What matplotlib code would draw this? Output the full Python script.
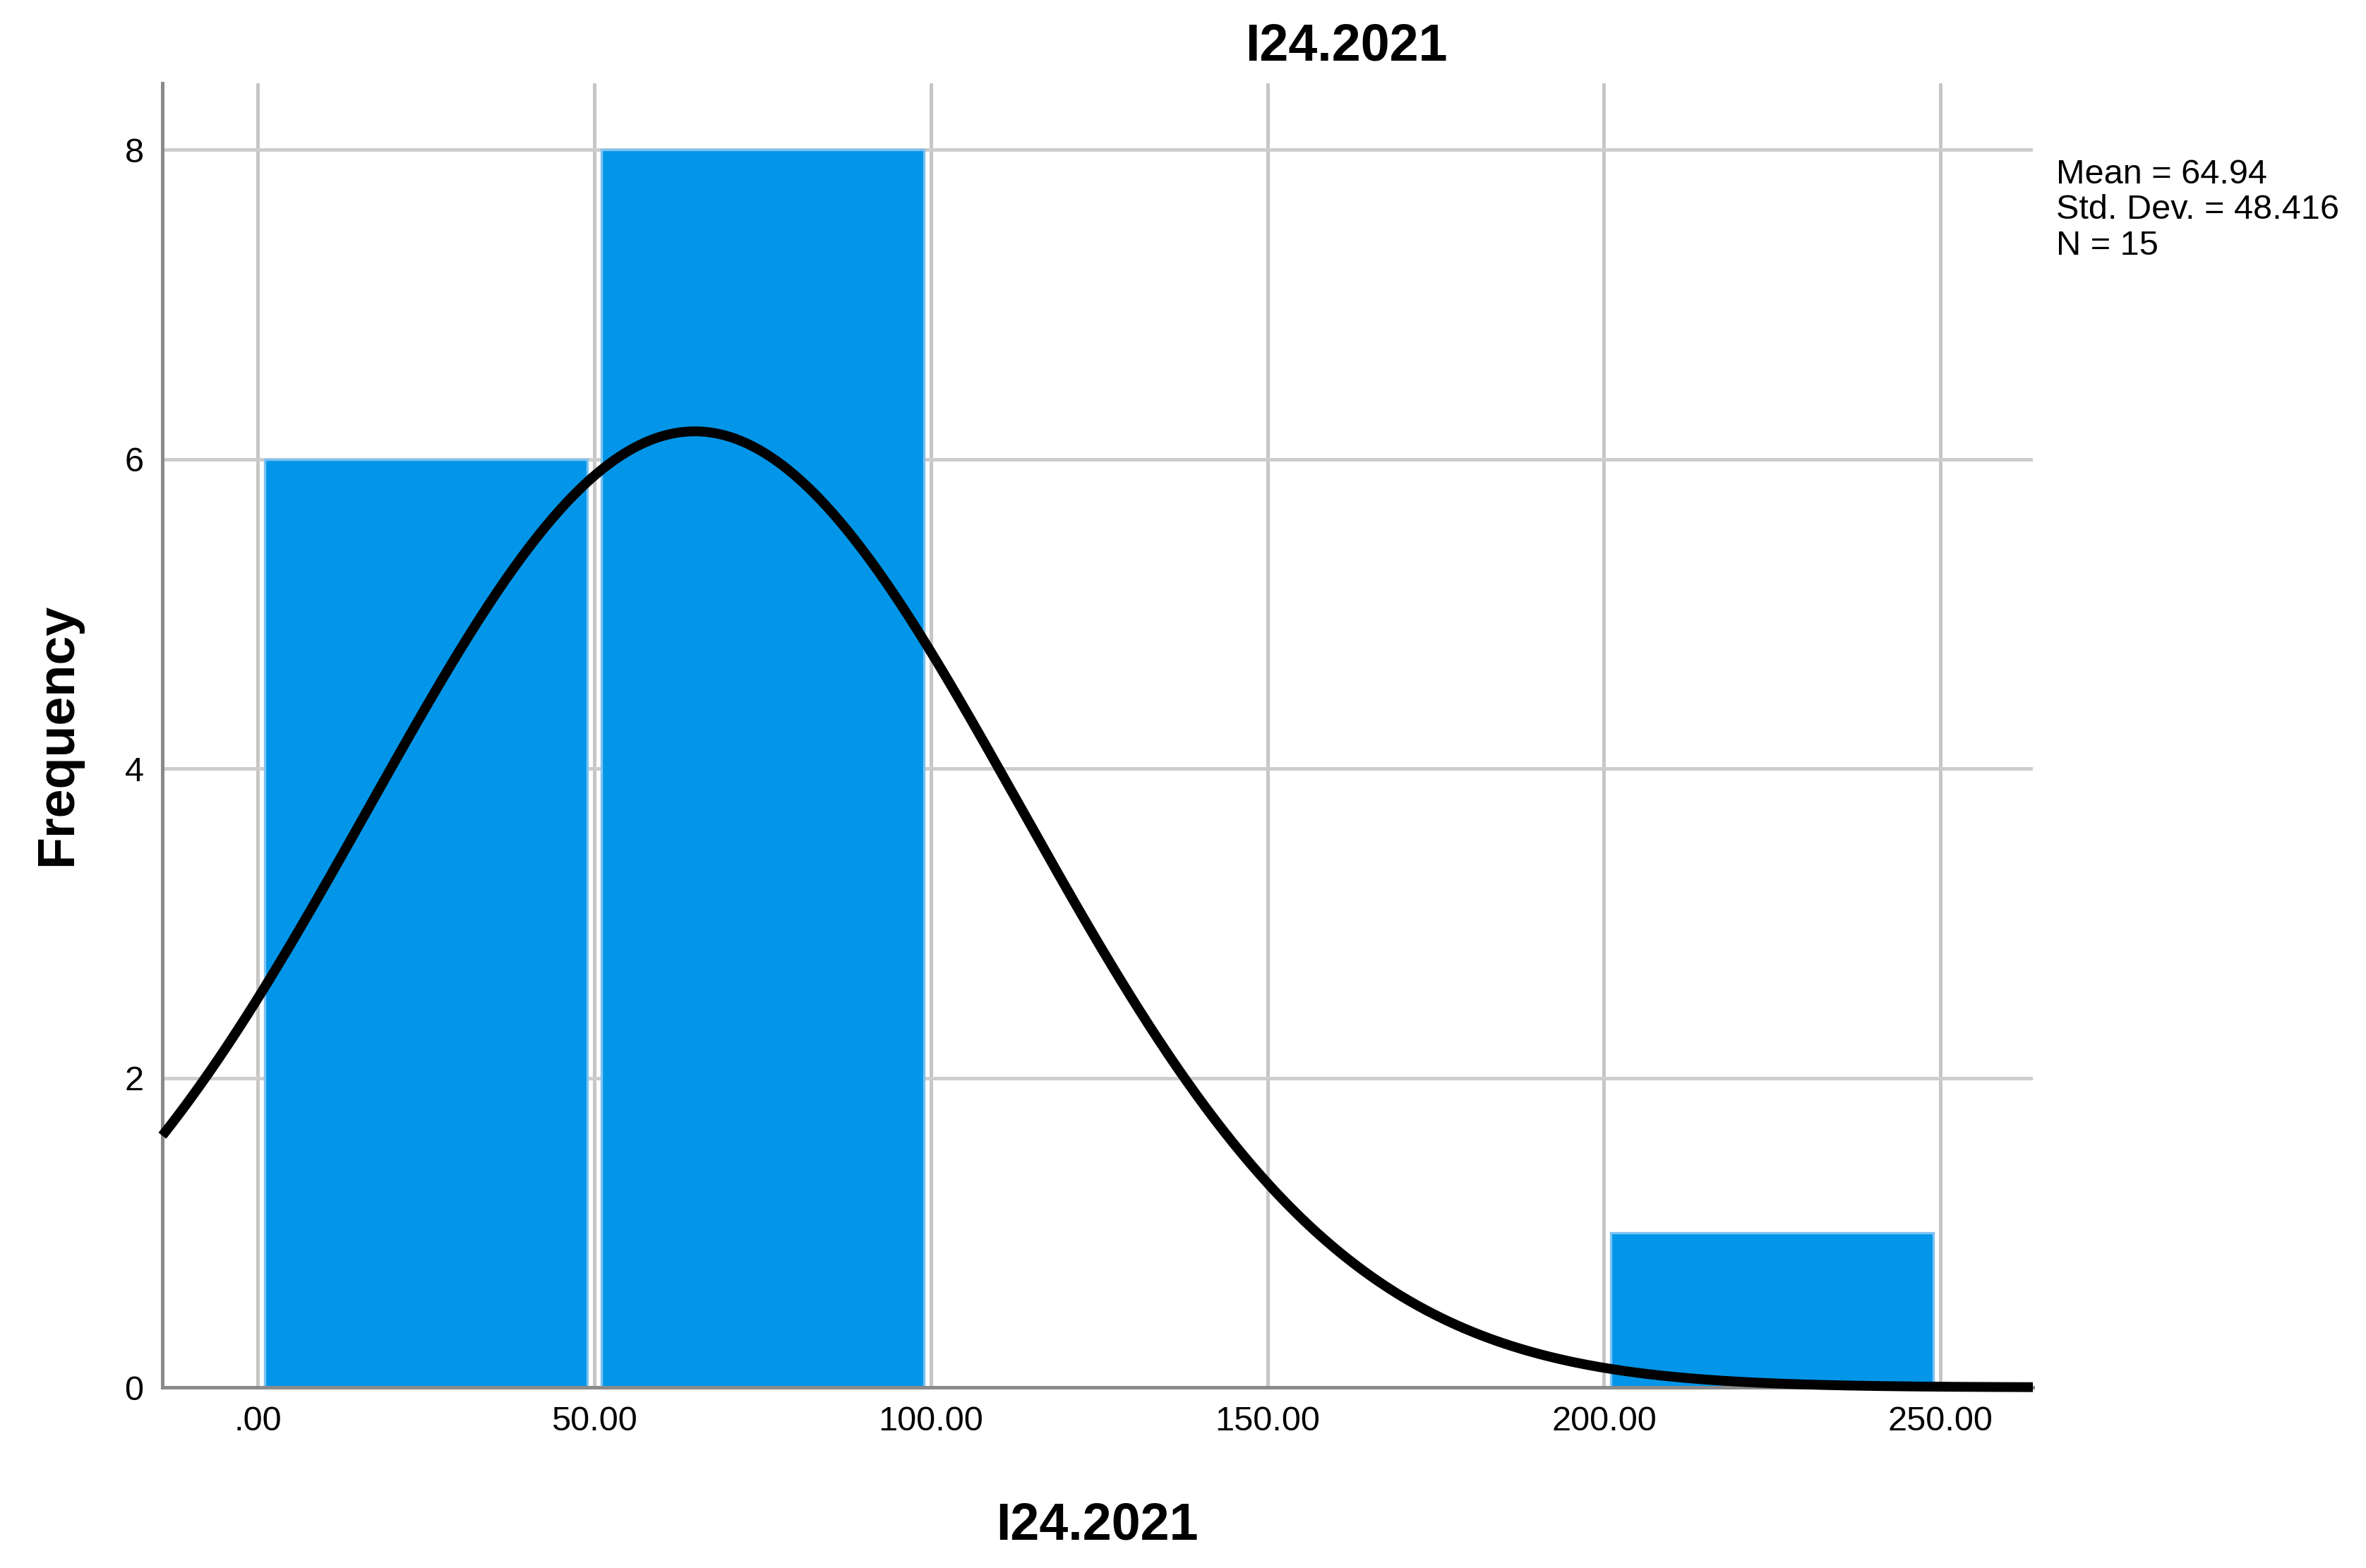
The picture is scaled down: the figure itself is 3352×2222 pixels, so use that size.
import numpy as np
import matplotlib
matplotlib.use("Agg")
import matplotlib.pyplot as plt

# ---- data ----
bin_edges = [0, 50, 100, 150, 200, 250]
counts = [6, 8, 0, 0, 1]
mean_val = 64.94
sd_val = 48.416
n_val = 15
x_ticks = [0, 50, 100, 150, 200, 250]
x_tick_labels = [".00", "50.00", "100.00", "150.00", "200.00", "250.00"]
y_ticks = [0, 2, 4, 6, 8]
title = "I24.2021"
x_label = "I24.2021"
y_label = "Frequency"
stats_lines = ["Mean = 64.94", "Std. Dev. = 48.416", "N = 15"]

plt.rcParams['font.family'] = ['Liberation Sans', 'DejaVu Sans']

W, H, DPI = 3352, 2222, 200
fig = plt.figure(figsize=(W / DPI, H / DPI), dpi=DPI)
fig.patch.set_facecolor("white")

ax_left, ax_right = 230 / W, 2880 / W
ax_bottom, ax_top = 1 - 1966 / H, 1 - 118 / H
ax = fig.add_axes([ax_left, ax_bottom, ax_right - ax_left, ax_top - ax_bottom])

ax.set_xlim(-14.16, 263.7)
ax.set_ylim(0, 8.43)

# gridlines
ax.set_axisbelow(True)
for xt in x_ticks:
    ax.axvline(xt, color="#C6C6C6", lw=1.8, zorder=0)
for yt in y_ticks[1:]:
    ax.axhline(yt, color="#CDCDCD", lw=1.8, zorder=0)

# bars
edges = np.array(bin_edges, dtype=float)
widths = np.diff(edges)
gap = 1.05
for left, w, c in zip(edges[:-1], widths, counts):
    if c > 0:
        ax.bar(left + gap, c, width=w - 2 * gap, align="edge",
               color="#0396E8", edgecolor="#7CC2F2", linewidth=1.2, zorder=2)

# normal curve
xs = np.linspace(ax.get_xlim()[0], ax.get_xlim()[1], 600)
bw = widths[0]
ys = n_val * bw / (sd_val * np.sqrt(2 * np.pi)) * np.exp(-0.5 * ((xs - mean_val) / sd_val) ** 2)
ax.plot(xs, ys, color="black", lw=5.0, zorder=4, clip_on=False, solid_capstyle="butt")

# spines
for s in ["top", "right"]:
    ax.spines[s].set_visible(False)
for s in ["left", "bottom"]:
    ax.spines[s].set_color("#8A8A8A")
    ax.spines[s].set_linewidth(1.8)
    ax.spines[s].set_zorder(3)

ax.set_xticks(x_ticks)
ax.set_xticklabels(x_tick_labels)
ax.set_yticks(y_ticks)
ax.tick_params(axis="both", length=0, labelsize=17.5, colors="black")
ax.tick_params(axis="x", pad=9.5)
ax.tick_params(axis="y", pad=9.5)

# texts
fig.text(1907 / W, 1 - 86 / H, title, ha="center", va="baseline",
         fontsize=26.5, fontweight="bold")
fig.text(1554 / W, 1 - 2181 / H, x_label, ha="center", va="baseline",
         fontsize=26.5, fontweight="bold")
fig.text(82 / W, 1 - 1041 / H, y_label, ha="center", va="center",
         rotation=90, fontsize=26.5, fontweight="bold")
for i, line in enumerate(stats_lines):
    fig.text(2913 / W, 1 - (260 + 50.5 * i) / H, line, ha="left", va="baseline",
             fontsize=17.5)

fig.savefig("out.png", dpi=DPI, facecolor="white")
